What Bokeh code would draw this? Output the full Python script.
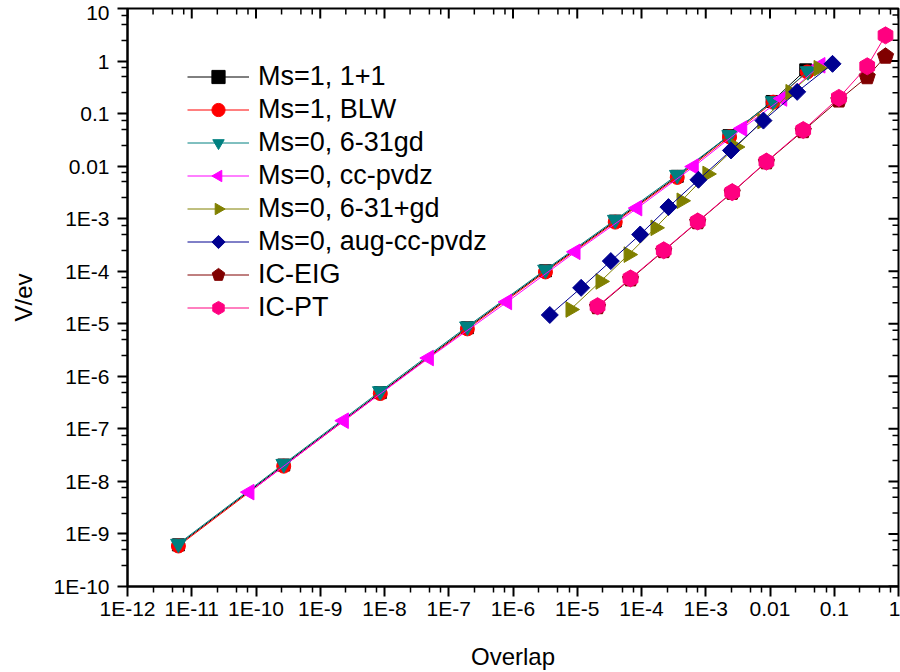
import math
from bokeh.plotting import figure
from bokeh.models import (Range1d, FixedTicker, CustomJSTickFormatter,
                          Legend, LegendItem)
from bokeh.embed import file_html
from bokeh.resources import INLINE

# ---------------- data ----------------
XTICKS = [1e-12, 1e-11, 1e-10, 1e-9, 1e-8, 1e-7, 1e-6, 1e-5, 1e-4, 1e-3, 1e-2, 1e-1, 1.0]
XTICK_LABELS = ["1E-12", "1E-11", "1E-10", "1E-9", "1E-8", "1E-7", "1E-6",
                "1E-5", "1E-4", "1E-3", "0.01", "0.1", "1"]
YTICKS = [1e-10, 1e-9, 1e-8, 1e-7, 1e-6, 1e-5, 1e-4, 1e-3, 1e-2, 1e-1, 1.0, 10.0]
YTICK_LABELS = ["1E-10", "1E-9", "1E-8", "1E-7", "1E-6", "1E-5", "1E-4",
                "1E-3", "0.01", "0.1", "1", "10"]
MINOR_STEPS = [2.5, 5.0, 7.5]

x_ms1_11 = [6.2e-12, 2.7e-10, 8.6e-9, 1.95e-7, 3.2e-6, 3.9e-5, 3.6e-4, 2.3e-3, 0.0108, 0.036]
y_ms1_11 = [6.2e-10, 2.05e-8, 4.9e-7, 8.4e-6, 1.02e-4, 9.0e-4, 6.4e-3, 0.038, 0.17, 0.68]

x_ms1_blw = [6.2e-12, 2.7e-10, 8.6e-9, 1.95e-7, 3.2e-6, 3.9e-5, 3.6e-4, 2.35e-3, 0.0112, 0.038]
y_ms1_blw = [5.9e-10, 1.95e-8, 4.7e-7, 8.0e-6, 9.7e-5, 8.6e-4, 6.1e-3, 0.036, 0.165, 0.62]

x_ms0_631gd = [6.2e-12, 2.7e-10, 8.6e-9, 1.95e-7, 3.2e-6, 3.9e-5, 3.6e-4, 2.35e-3, 0.0112, 0.039]
y_ms0_631gd = [6.5e-10, 2.15e-8, 5.2e-7, 8.9e-6, 1.07e-4, 9.5e-4, 6.8e-3, 0.039, 0.172, 0.64]

x_ms0_ccpvdz = [7.9e-11, 2.33e-9, 4.9e-8, 8.1e-7, 9.4e-6, 8.6e-5, 6.5e-4, 3.7e-3, 0.0155, 0.061]
y_ms0_ccpvdz = [6.25e-9, 1.43e-7, 2.23e-6, 2.6e-5, 2.34e-4, 1.59e-3, 9.8e-3, 0.052, 0.194, 0.83]

x_ms0_631pgd = [7.85e-6, 2.3e-5, 6.3e-5, 1.65e-4, 4.2e-4, 1.06e-3, 2.95e-3, 7.6e-3, 0.0208, 0.057]
y_ms0_631pgd = [1.87e-5, 6.4e-5, 2.07e-4, 6.7e-4, 2.19e-3, 7.1e-3, 0.0231, 0.072, 0.255, 0.73]

x_ms0_aug = [3.74e-6, 1.15e-5, 3.33e-5, 9.55e-5, 2.63e-4, 7.7e-4, 2.47e-3, 7.9e-3, 0.0265, 0.094]
y_ms0_aug = [1.47e-5, 4.83e-5, 1.56e-4, 5.0e-4, 1.66e-3, 5.5e-3, 0.0199, 0.0736, 0.259, 0.885]

x_ic_eig = [2.07e-5, 6.75e-5, 2.22e-4, 7.5e-4, 2.58e-3, 8.8e-3, 0.0329, 0.118, 0.326, 0.628]
y_ic_eig = [2.1e-5, 7.1e-5, 2.45e-4, 8.7e-4, 3.15e-3, 0.012, 0.047, 0.18, 0.50, 1.23]

x_ic_pt = [2.07e-5, 6.75e-5, 2.22e-4, 7.5e-4, 2.58e-3, 8.8e-3, 0.0329, 0.118, 0.326, 0.628]
y_ic_pt = [2.16e-5, 7.3e-5, 2.5e-4, 8.85e-4, 3.2e-3, 0.0122, 0.0486, 0.199, 0.794, 3.08]

# ---------------- figure ----------------
FONT = "Liberation Sans"
XMIN, XMAX = XTICKS[0], XTICKS[-1]
YMIN, YMAX = YTICKS[0], YTICKS[-1]

p = figure(width=900, height=672, x_axis_type="log", y_axis_type="log",
           x_range=Range1d(XMIN, XMAX), y_range=Range1d(YMIN, YMAX),
           output_backend="svg", toolbar_location=None,
           min_border_left=127, min_border_right=2, min_border_top=8,
           min_border_bottom=84)
p.outline_line_color = "black"
p.outline_line_width = 2
p.xgrid.visible = False
p.ygrid.visible = False
p.background_fill_color = "white"
p.border_fill_color = "white"


def minor_of(major):
    return [d * m for d in major[:-1] for m in MINOR_STEPS]


FMT_CODE = """
const lt = Math.log10(tick);
for (let i = 0; i < tvals.length; i++) {
  if (Math.abs(Math.log10(tvals[i]) - lt) < 1e-6) return tlabels[i];
}
return "";
"""

xminor = minor_of(XTICKS)
yminor = minor_of(YTICKS)
xt = FixedTicker(ticks=XTICKS, minor_ticks=xminor)
yt = FixedTicker(ticks=YTICKS, minor_ticks=yminor)


def style_main(ax, label, standoff):
    ax.axis_label = label
    ax.axis_label_text_font = FONT
    ax.axis_label_text_font_size = "24px"
    ax.axis_label_text_font_style = "normal"
    ax.axis_label_text_color = "black"
    ax.axis_label_standoff = standoff
    ax.major_label_text_font = FONT
    ax.major_label_text_font_size = "21px"
    ax.major_label_text_color = "black"
    ax.axis_line_width = 2
    ax.axis_line_color = "black"
    ax.major_tick_line_width = 2
    ax.minor_tick_line_width = 1.5
    ax.major_tick_line_color = "black"
    ax.minor_tick_line_color = "black"
    ax.major_tick_out = 10
    ax.major_tick_in = 0
    ax.minor_tick_out = 6
    ax.minor_tick_in = 0


xa = p.xaxis[0]
xa.ticker = xt
xa.formatter = CustomJSTickFormatter(args=dict(tvals=XTICKS, tlabels=XTICK_LABELS), code=FMT_CODE)
style_main(xa, "Overlap", 20)
xa.major_label_standoff = 0

ya = p.yaxis[0]
ya.ticker = yt
ya.formatter = CustomJSTickFormatter(args=dict(tvals=YTICKS, tlabels=YTICK_LABELS), code=FMT_CODE)
style_main(ya, "V/ev", 13)
ya.major_label_standoff = 8

# mirrored inward ticks on the top and right frame edges (half clipped by the frame)
p.scatter(XTICKS, [YMAX] * len(XTICKS), marker="dash", size=20, angle=math.pi / 2,
          line_color="black", line_width=2)
p.scatter(xminor, [YMAX] * len(xminor), marker="dash", size=12, angle=math.pi / 2,
          line_color="black", line_width=1.5)
p.scatter([XMAX] * len(YTICKS), YTICKS, marker="dash", size=20,
          line_color="black", line_width=2)
p.scatter([XMAX] * len(yminor), yminor, marker="dash", size=12,
          line_color="black", line_width=1.5)

# ---------------- series ----------------
items = []


def add_series(label, xs, ys, color, marker=None, size=14, n=None, radius=8.5, angle=0.0):
    lr = p.line(xs, ys, line_color=color, line_width=1)
    if n is not None:
        mr = p.ngon(x=xs, y=ys, radius=radius, radius_units="screen", n=n,
                    angle=angle, fill_color=color, line_color=color)
    else:
        mr = p.scatter(xs, ys, marker=marker, size=size,
                       fill_color=color, line_color=color)
    items.append(LegendItem(label=label, renderers=[lr, mr]))


add_series("Ms=1, 1+1", x_ms1_11, y_ms1_11, "black", "square", 12)
add_series("Ms=1, BLW", x_ms1_blw, y_ms1_blw, "#FF0000", "circle", 14)
add_series("Ms=0, 6-31gd", x_ms0_631gd, y_ms0_631gd, "#008080", n=3, radius=9, angle=math.pi)
add_series("Ms=0, cc-pvdz", x_ms0_ccpvdz, y_ms0_ccpvdz, "#FF00FF", n=3, radius=9, angle=math.pi / 2)
add_series("Ms=0, 6-31+gd", x_ms0_631pgd, y_ms0_631pgd, "#808000", n=3, radius=9, angle=-math.pi / 2)
add_series("Ms=0, aug-cc-pvdz", x_ms0_aug, y_ms0_aug, "#000090", n=4, radius=8.5)
add_series("IC-EIG", x_ic_eig, y_ic_eig, "#800000", n=5, radius=8.5)
add_series("IC-PT", x_ic_pt, y_ic_pt, "#FF0080", n=6, radius=8.5)

legend = Legend(items=items, location=(60, 262), padding=0, margin=0, spacing=0,
                glyph_width=62, glyph_height=33, label_height=33, label_standoff=9,
                label_text_font=FONT, label_text_font_size="27px",
                label_text_color="black",
                border_line_color=None, background_fill_alpha=0)
p.add_layout(legend)

open("out.html", "w").write(file_html(p, INLINE))
